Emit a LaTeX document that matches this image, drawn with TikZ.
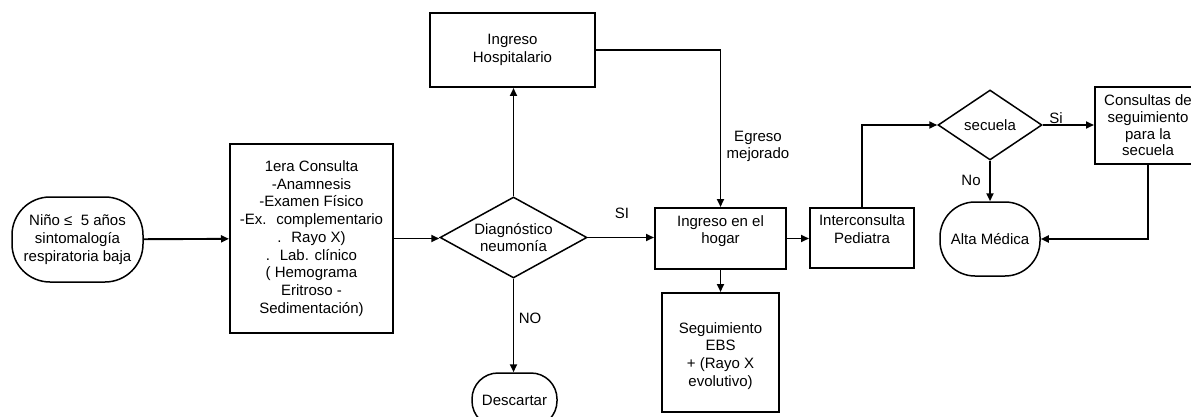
\documentclass[tikz,border=0pt]{standalone}
\usepackage{fontspec}
\setmainfont{Liberation Sans}
\usetikzlibrary{arrows.meta, positioning, shapes.geometric, calc}

\begin{document}
\begin{tikzpicture}[x=1pt, y=-1pt, >={Stealth[length=8pt, width=7pt, inset=0pt]},
    font=\fontsize{15}{17.7}\selectfont,
    proc/.style={rectangle, draw=black, line width=2pt, align=center, inner sep=0pt},
    term/.style={rectangle, draw=black, line width=1.5pt, align=center, inner sep=0pt},
    decision/.style={diamond, draw=black, line width=1.5pt, align=center, inner sep=0pt},
    flow/.style={->, line width=1.9pt}]
        \useasboundingbox (0,0) rectangle (1191,417);
        \clip (0,0) rectangle (1191,417);
        \node (nino) [term, minimum width=131pt, minimum height=85pt, rounded corners=38pt] at (77.5,239.5) {Niño ≤~ 5 años\\sintomalogía\\respiratoria baja};
        \node (consulta) [proc, minimum width=163pt, minimum height=189pt] at (311.5,238.5) {1era Consulta\\-Anamnesis\\-Examen Físico\\-Ex.~ complementario\\.~ Rayo X)\\.~ Lab. clínico\\( Hemograma\\Eritroso -\\Sedimentación)};
        \node (diag) [decision, shape aspect=1.8, minimum width=147pt, minimum height=81pt] at (513.5,237.5) {Diagnóstico\\neumonía};
        \node (hosp) [proc, minimum width=165pt, minimum height=74pt] at (512.5,50) {Ingreso\\Hospitalario};
        \node (desc) [term, minimum width=85pt, minimum height=54pt, rounded corners=26pt] at (514.5,400) {Descartar};
        \node (hogar) [proc, minimum width=131pt, minimum height=61pt] at (720.5,238.5) {Ingreso en el\\hogar\\~};
        \node (seg) [proc, minimum width=117pt, minimum height=119pt] at (720.5,352.5) {~\\Seguimiento\\EBS\\+ (Rayo X\\evolutivo)};
        \node (inter) [proc, minimum width=104pt, minimum height=60pt] at (862,238) {Interconsulta\\Pediatra\\~};
        \node (secuela) [decision, shape aspect=1.5, minimum width=104pt, minimum height=70pt] at (990,125) {secuela};
        \node (cons) [proc, minimum width=106pt, minimum height=77pt, font=\fontsize{15}{16.7}\selectfont] at (1148,125.5) {Consultas de\\seguimiento\\para la\\secuela};
        \node (alta) [term, minimum width=100pt, minimum height=74pt, rounded corners=35pt] at (990,239) {Alta Médica};
        % etiquetas
        \node (si) at (622,213) {SI};
        \node (no) at (530,318) {NO};
        \node (egreso) [align=center, font=\fontsize{15}{17}\selectfont] at (758,146) {Egreso\\mejorado};
        \node (sisec) at (1056,118) {Si};
        \node (nosec) at (971,180) {No};
        % flechas
        \draw[flow] (nino) -- (consulta);
        \draw[flow] (consulta.east) -- (consulta.east -| diag.west);
        \draw[flow] (diag.north) -- (diag.north |- hosp.south);
        \draw[flow] (hosp.east) -| (hogar.north);
        \draw[flow] (diag.east) -- (diag.east -| hogar.west);
        \draw[flow] (diag.south) -- (diag.south |- desc.north);
        \draw[flow] (hogar.south) -- (seg.north);
        \draw[flow] (hogar.east) -- (hogar.east -| inter.west);
        \draw[flow] (inter.north) |- (secuela.west);
        \draw[flow] (secuela.east) -- (secuela.east -| cons.west);
        \draw[flow] (secuela.south) -- (alta.north);
        \draw[flow] (cons.south) |- (alta.east);
    \end{tikzpicture}
\end{document}
